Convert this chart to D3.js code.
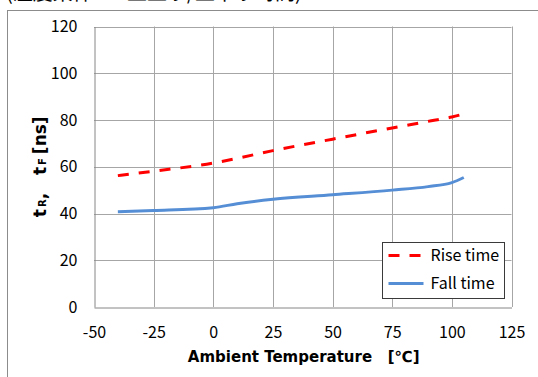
<!DOCTYPE html>
<html>
<head>
<meta charset="utf-8">
<script src="https://cdn.jsdelivr.net/npm/d3@7"></script>
<style>
  html, body { margin: 0; padding: 0; background: #fff; }
  svg { display: block; font-family: "Noto Sans CJK JP", "Noto Sans", sans-serif; }
</style>
</head>
<body>
<svg id="chart" width="538" height="377"></svg>
<script>
// Ambient temperature (°C) at which rise / fall times were measured
const temps = [-40, -25, 0, 10, 25, 50, 75, 90, 100, 105];
// Rise time tR [ns]
const riseTime = [56.2, 58.1, 61.6, 63.6, 66.9, 71.8, 76.6, 79.4, 81.3, 82.6];
// Fall time tF [ns]
const fallTime = [40.8, 41.3, 42.5, 44.2, 46.1, 48.0, 50.0, 51.5, 53.2, 55.4];

const xTicks = [-50, -25, 0, 25, 50, 75, 100, 125];
const yTicks = [0, 20, 40, 60, 80, 100, 120];
const seriesNames = ["Rise time", "Fall time"];
const seriesColors = ["#ff0000", "#558ed5"];

const svg = d3.select("#chart");

const x = d3.scaleLinear().domain([-50, 125]).range([94, 511.5]);
const y = d3.scaleLinear().domain([0, 120]).range([307, 26.5]);

// heading line, mostly above the visible area
svg.append("text")
  .attr("x", 6).attr("y", 0)
  .attr("font-size", 20)
  .attr("fill", "#000")
  .text("(温度条件 vs. 立上り/立下り時間)");

// outer chart frame
svg.append("rect")
  .attr("x", 7.5).attr("y", 10.5)
  .attr("width", 600).attr("height", 400)
  .attr("fill", "none")
  .attr("stroke", "#8c8c8c")
  .attr("stroke-width", 1);

// gridlines
const grid = svg.append("g");
grid.selectAll("line.v").data(xTicks.slice(1)).join("line")
  .attr("x1", d => Math.round(x(d)) + 0.5).attr("x2", d => Math.round(x(d)) + 0.5)
  .attr("y1", y(0)).attr("y2", y(120))
  .attr("stroke", "#a6a6a6").attr("stroke-width", 1);
grid.selectAll("line.h").data(yTicks.slice(1)).join("line")
  .attr("x1", x(-50)).attr("x2", x(125))
  .attr("y1", d => Math.round(y(d)) + 0.5).attr("y2", d => Math.round(y(d)) + 0.5)
  .attr("stroke", "#a6a6a6").attr("stroke-width", 1);

// axes (plain hyphen-minus for negative labels)
const fmt = d => String(d);
const xAxis = d3.axisBottom(x).tickValues(xTicks).tickFormat(fmt).tickSize(0).tickPadding(19);
const yAxis = d3.axisLeft(y).tickValues(yTicks).tickFormat(fmt).tickSize(0).tickPadding(17);

const gx = svg.append("g").attr("transform", `translate(0,${Math.round(y(0)) + 0.5})`).call(xAxis);
const gy = svg.append("g").attr("transform", `translate(${Math.round(x(-50)) + 0.5},0)`).call(yAxis);
[gx, gy].forEach(g => {
  g.attr("font-family", null).attr("font-size", null);
  g.select(".domain").attr("stroke", "#868686").attr("stroke-width", 1);
  g.selectAll("text").attr("fill", "#000")
    .style("font-family", "'Noto Sans CJK JP', sans-serif")
    .style("font-size", "16px");
});

// axis titles
svg.append("text")
  .attr("x", (x(-50) + x(125)) / 2 + 1).attr("y", 362)
  .attr("text-anchor", "middle")
  .style("font-family", "'DejaVu Sans', sans-serif")
  .style("font-size", "15px").style("font-weight", "bold")
  .attr("xml:space", "preserve")
  .text("Ambient Temperature   [℃]");

const yt = svg.append("text")
  .attr("transform", `translate(46,${(y(0) + y(120)) / 2}) rotate(-90)`)
  .attr("text-anchor", "middle")
  .style("font-family", "'DejaVu Sans', sans-serif")
  .style("font-size", "17px").style("font-weight", "bold")
  .attr("xml:space", "preserve");
yt.append("tspan").text("t");
yt.append("tspan").style("font-size", "10px").attr("dx", 2).text("R");
yt.append("tspan").text(",   t");
yt.append("tspan").style("font-size", "10px").attr("dx", 2).text("F");
yt.append("tspan").attr("dx", 4).text("[ns]");

// data lines
const line = d3.line().x((d, i) => x(temps[i])).y(d => y(d)).curve(d3.curveMonotoneX);

svg.append("path").datum(fallTime)
  .attr("d", line)
  .attr("fill", "none")
  .attr("stroke", seriesColors[1])
  .attr("stroke-width", 3)
  .attr("stroke-linejoin", "round");

svg.append("path").datum(riseTime)
  .attr("d", line)
  .attr("fill", "none")
  .attr("stroke", seriesColors[0])
  .attr("stroke-width", 3)
  .attr("stroke-dasharray", "11,10");

// legend
const lg = svg.append("g").attr("transform", "translate(382.5,242.5)");
lg.append("rect")
  .attr("width", 122).attr("height", 56)
  .attr("fill", "#fff").attr("stroke", "#3a3a3a").attr("stroke-width", 1);
const items = lg.selectAll("g.item").data(seriesNames).join("g")
  .attr("transform", (d, i) => `translate(0,${13 + i * 28})`);
items.append("line")
  .attr("x1", 6).attr("x2", 41)
  .attr("stroke", (d, i) => seriesColors[i])
  .attr("stroke-width", 3)
  .attr("stroke-dasharray", (d, i) => i === 0 ? "11,10" : null);
items.append("text")
  .attr("x", 48).attr("y", 5.5)
  .style("font-size", "16px").attr("fill", "#000")
  .text(d => d);
</script>
</body>
</html>
